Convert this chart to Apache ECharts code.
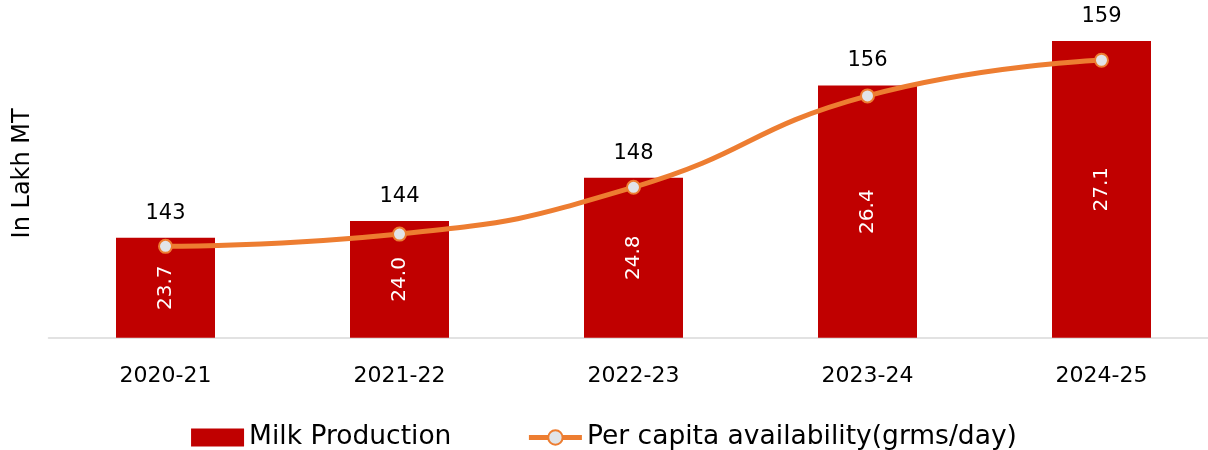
<!DOCTYPE html>
<html>
<head>
<meta charset="utf-8">
<script src="https://cdn.jsdelivr.net/npm/echarts@6/dist/echarts.min.js"></script>
<style>
html,body{margin:0;padding:0;background:#fff;}
#chart{width:1208px;height:450px;}
</style>
</head>
<body>
<div id="chart"></div>
<script>
var categories = ['2020-21', '2021-22', '2022-23', '2023-24', '2024-25'];
var milkProduction = [142.93, 144.32, 147.93, 155.62, 159.34];
var perCapita = [23.74, 23.96, 24.80, 26.44, 27.08];

var FONT = "'DejaVu Sans', sans-serif";
var chart = echarts.init(document.getElementById('chart'));
chart.setOption({
  animation: false,
  textStyle: { fontFamily: FONT },
  grid: { left: 48.5, width: 1170, top: 9, bottom: 112.3, outerBoundsMode: 'none', containLabel: false },
  legend: {
    top: 424,
    left: 'center',
    padding: 0,
    itemWidth: 53,
    itemHeight: 18,
    itemGap: 75,
    textStyle: { fontFamily: FONT, fontSize: 26.5, color: '#000' },
    data: [
      { name: 'Milk Production', icon: 'rect' },
      { name: 'Per capita availability(grms/day)', lineStyle: { width: 5, color: '#ED7D31' } }
    ]
  },
  xAxis: {
    type: 'category',
    data: categories,
    axisLine: { lineStyle: { color: '#d9d9d9', width: 1.5 } },
    axisTick: { show: false },
    axisLabel: { fontFamily: FONT, fontSize: 22, color: '#000', margin: 28 }
  },
  yAxis: [{
    type: 'value',
    min: 134.6,
    max: 162,
    name: 'In Lakh MT',
    nameLocation: 'middle',
    nameRotate: 90,
    nameGap: 14,
    nameTextStyle: { fontFamily: FONT, fontSize: 24, color: '#000' },
    axisLine: { show: false },
    axisTick: { show: false },
    axisLabel: { show: false },
    splitLine: { show: false }
  }, {
    type: 'value',
    min: 22.1,
    max: 28.0,
    axisLine: { show: false },
    axisTick: { show: false },
    axisLabel: { show: false },
    splitLine: { show: false }
  }],
  series: [{
    name: 'Milk Production',
    type: 'bar',
    data: milkProduction,
    barWidth: 99,
    itemStyle: { color: '#C00000' },
    label: {
      show: true,
      position: 'top',
      distance: 14,
      fontFamily: FONT,
      fontSize: 21,
      color: '#000',
      formatter: function (p) { return Math.round(p.value); }
    }
  }, {
    name: 'Milk Production',
    type: 'bar',
    data: milkProduction,
    barWidth: 99,
    barGap: '-100%',
    itemStyle: { color: 'transparent' },
    silent: true,
    legendHoverLink: false,
    label: {
      show: true,
      position: 'inside',
      rotate: 90,
      fontFamily: FONT,
      fontSize: 20,
      color: '#fff',
      formatter: function (p) { return perCapita[p.dataIndex].toFixed(1); }
    },
    z: 3
  }, {
    name: 'Per capita availability(grms/day)',
    type: 'line',
    yAxisIndex: 1,
    data: perCapita,
    smooth: 0.5,
    symbol: 'circle',
    symbolSize: 13,
    lineStyle: { color: '#ED7D31', width: 5 },
    itemStyle: { color: '#E1E4E8', borderColor: '#ED7D31', borderWidth: 2 },
    z: 4
  }]
});
</script>
</body>
</html>
